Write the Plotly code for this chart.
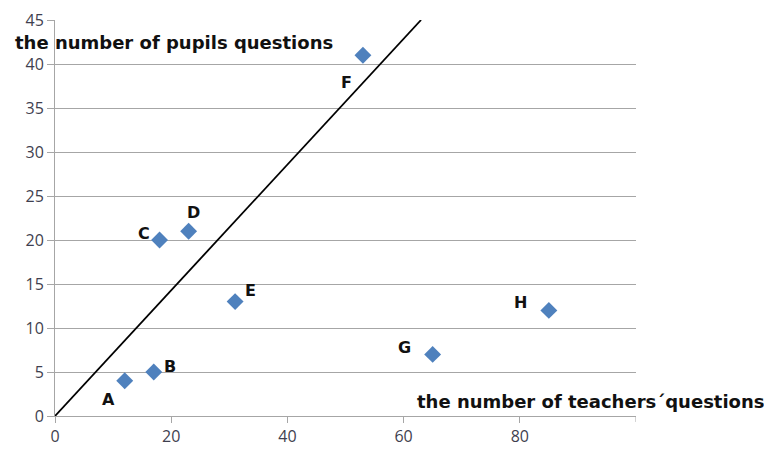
import plotly.graph_objects as go

# Questions asked per lesson: teachers (x) vs pupils (y)
lessons = ["A", "B", "C", "D", "E", "F", "G", "H"]
teacher_questions = [12, 17, 18, 23, 31, 53, 65, 85]
pupil_questions = [4, 5, 20, 21, 13, 41, 7, 12]

# Reference line through the origin
line_x = [0, 63]
line_y = [0, 45]

x_ticks = [0, 20, 40, 60, 80]
y_ticks = [0, 5, 10, 15, 20, 25, 30, 35, 40, 45]

# Pixel offsets of each lesson letter from its marker
label_shift = {
    "A": (-16, -19), "B": (16, 6), "C": (-16, 7), "D": (5, 19),
    "E": (15, 11), "F": (-16, -27), "G": (-28, 7), "H": (-28, 8),
}

grid = "#a6a6a6"
label_font = dict(family="DejaVu Sans", size=18, color="#111111")
tick_font = dict(family="Open Sans", size=16, color="#3f3f4f")

fig = go.Figure()
fig.add_trace(go.Scatter(
    x=line_x, y=line_y, mode="lines",
    line=dict(color="black", width=1.8), hoverinfo="skip", showlegend=False,
))
fig.add_trace(go.Scatter(
    x=teacher_questions, y=pupil_questions, mode="markers",
    marker=dict(symbol="diamond", size=13, color="#4f81bd"),
    showlegend=False,
))

annotations = []
for name, tx, py in zip(lessons, teacher_questions, pupil_questions):
    dx, dy = label_shift[name]
    annotations.append(dict(
        x=tx, y=py, xref="x", yref="y", text=f"<b>{name}</b>",
        showarrow=False, xshift=dx, yshift=dy,
        font=dict(family="DejaVu Sans", size=16, color="#111111"),
    ))

annotations.append(dict(
    x=-0.072, y=42.4, xref="paper", yref="y", xanchor="left", yanchor="middle",
    text="<b>the number of pupils questions</b>", showarrow=False, font=label_font,
))
annotations.append(dict(
    x=62, y=1.6, xref="x", yref="y", xanchor="left", yanchor="middle",
    text="<b>the number of teachers´questions</b>", showarrow=False, font=label_font,
))

fig.update_layout(
    width=764, height=457,
    margin=dict(l=55, r=128, t=20, b=41),
    paper_bgcolor="white", plot_bgcolor="white",
    annotations=annotations,
    xaxis=dict(
        range=[0, 100], tickvals=x_ticks, ticktext=[str(v) for v in x_ticks],
        showgrid=False, zeroline=False, showline=True, linecolor=grid,
        ticks="outside", ticklen=6, tickcolor=grid,
        tickfont=tick_font, fixedrange=True, automargin=False,
    ),
    yaxis=dict(
        range=[0, 45], tickvals=y_ticks,
        showgrid=True, gridcolor=grid, gridwidth=1,
        zeroline=False, showline=True, linecolor=grid,
        ticks="outside", ticklen=7, tickcolor=grid,
        tickfont=tick_font, fixedrange=True, automargin=False,
    ),
)

# Tick mark at the right end of the x axis
fig.add_shape(type="line", xref="x", yref="paper", x0=100, x1=100, y0=0, y1=-0.015,
              line=dict(color=grid, width=1))

fig.write_html("out.html")
